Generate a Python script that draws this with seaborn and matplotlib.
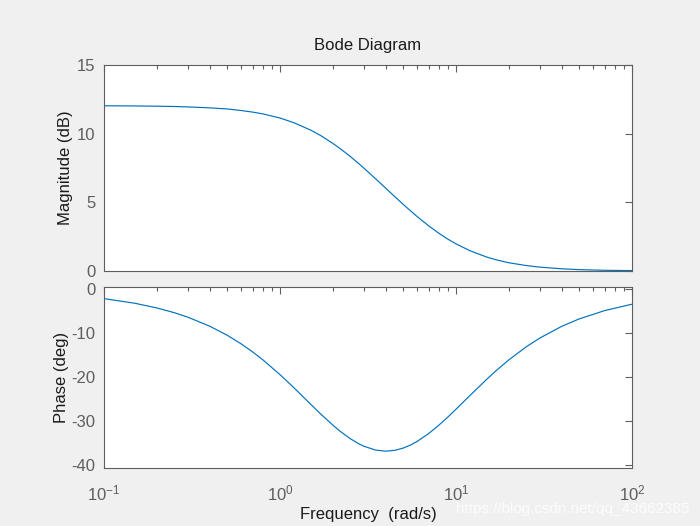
import numpy as np
import pandas as pd
import seaborn as sns
import matplotlib.pyplot as plt
from matplotlib.ticker import LogLocator, NullFormatter

# values
freq = [0.1, 0.15, 0.2, 0.25, 0.3, 0.4, 0.5, 0.6, 0.7, 0.8, 1.0, 1.2, 1.5, 1.7, 2.0, 2.2,
        2.5, 2.8, 3.0, 3.5, 4.0, 4.5, 5.0, 5.5, 6.0, 7.0, 8.0, 9.0, 10.0, 12.0, 15.0,
        17.0, 20.0, 25.0, 30.0, 40.0, 50.0, 70.0, 100.0]
mag_db = [12.03, 12.02, 12.00, 11.98, 11.95, 11.88, 11.80, 11.69, 11.57, 11.44, 11.14,
          10.80, 10.25, 9.87, 9.29, 8.91, 8.36, 7.83, 7.49, 6.71, 6.02, 5.41, 4.87, 4.40,
          3.98, 3.29, 2.75, 2.32, 1.98, 1.48, 1.01, 0.81, 0.60, 0.40, 0.28, 0.16, 0.10,
          0.05, 0.03]
phase_deg = [-2.15, -3.21, -4.28, -5.33, -6.38, -8.45, -10.46, -12.41, -14.29, -16.09,
             -19.44, -22.43, -26.25, -28.37, -30.96, -32.35, -33.99, -35.17, -35.75,
             -36.63, -36.87, -36.68, -36.19, -35.51, -34.70, -32.87, -30.96, -29.11,
             -27.35, -24.23, -20.48, -18.49, -16.09, -13.17, -11.12, -8.45, -6.80,
             -4.88, -3.43]
xtick_vals = [0.1, 1, 10, 100]
xtick_labels = ["$10^{-1}$", "$10^{0}$", "$10^{1}$", "$10^{2}$"]

df = pd.DataFrame({"freq": freq, "mag": mag_db, "phase": phase_deg})

sns.set_style("white")
plt.rcParams["font.family"] = ["Arial", "Liberation Sans", "DejaVu Sans"]
plt.rcParams["mathtext.fontset"] = "custom"
plt.rcParams["mathtext.rm"] = "Liberation Sans"
plt.rcParams["mathtext.it"] = "Liberation Sans"
plt.rcParams["axes.unicode_minus"] = False

fig = plt.figure(figsize=(7, 5.26), dpi=100, facecolor="#f0f0f0")
ax1 = fig.add_axes([0.1486, 0.4848, 0.754, 0.3916])
ax2 = fig.add_axes([0.1486, 0.1103, 0.754, 0.3441])

line_col = "#0072bd"
grey = "#5e5e5e"

sns.lineplot(data=df, x="freq", y="mag", ax=ax1, color=line_col, linewidth=0.85)
sns.lineplot(data=df, x="freq", y="phase", ax=ax2, color=line_col, linewidth=0.85)

for ax in (ax1, ax2):
    ax.set_xscale("log")
    ax.set_xlim(0.1, 100)
    ax.set_facecolor("white")
    for s in ax.spines.values():
        s.set_color(grey)
        s.set_linewidth(0.8)
    ax.xaxis.set_major_locator(LogLocator(base=10))
    ax.xaxis.set_minor_locator(LogLocator(base=10, subs=np.arange(2, 10)))
    ax.xaxis.set_minor_formatter(NullFormatter())
    ax.tick_params(which="both", direction="in", top=True, right=True,
                   colors=grey, labelsize=12, width=0.8)
    ax.tick_params(which="major", length=5)
    ax.tick_params(which="minor", length=3)
    ax.tick_params(axis="y", pad=6)
    ax.set_xlabel("")

ax1.set_ylim(0, 15)
ax1.set_yticks([0, 5, 10, 15])
ax1.set_xticks(xtick_vals)
ax1.set_xticklabels([])
ax1.set_ylabel("Magnitude (dB)", fontsize=12, color="#1a1a1a", labelpad=3)
ax1.set_title("Bode Diagram", fontsize=12, color="#1a1a1a", pad=11)

ax2.set_ylim(-40.7, 0.5)
ax2.set_yticks([-40, -30, -20, -10, 0])
ax2.set_xticks(xtick_vals)
ax2.set_xticklabels(xtick_labels)
ax2.tick_params(axis="x", pad=11)
ax2.set_ylabel("Phase (deg)", fontsize=12, color="#1a1a1a", labelpad=2)
ax2.set_xlabel("Frequency  (rad/s)", fontsize=12, color="#1a1a1a", labelpad=3)

fig.text(0.985, 0.033, "https://blog.csdn.net/qq_43662385", ha="right", va="center",
         fontsize=11, color="white", alpha=0.8)

fig.savefig("out.png", dpi=100, facecolor=fig.get_facecolor())
